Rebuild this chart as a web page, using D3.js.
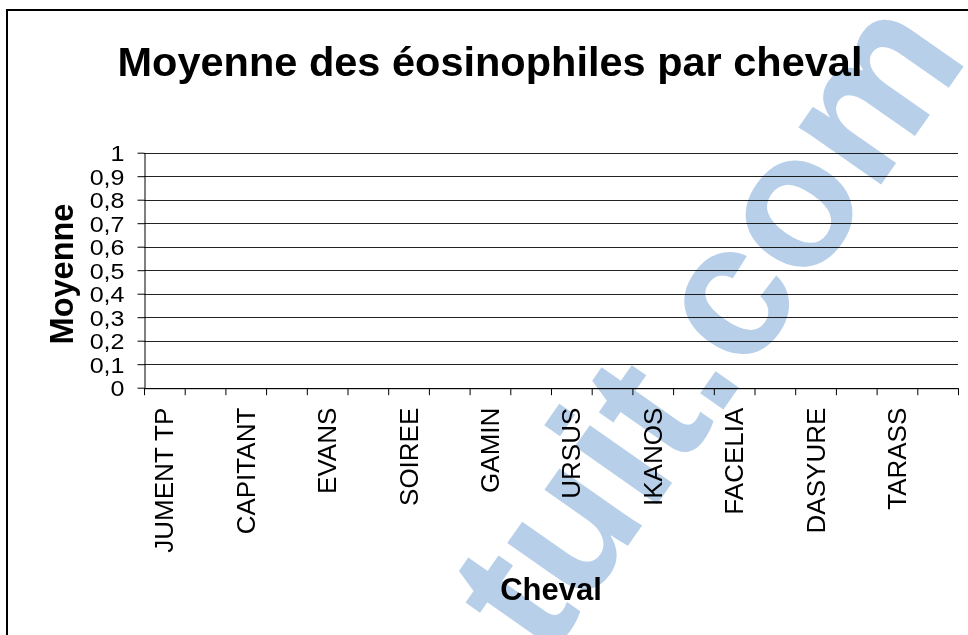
<!DOCTYPE html>
<html>
<head>
<meta charset="utf-8">
<script src="https://cdn.jsdelivr.net/npm/d3@7"></script>
<style>
  html, body { margin: 0; padding: 0; background: #fff; }
  svg { display: block; }
</style>
</head>
<body>
<svg id="chart" width="968" height="635"></svg>
<script>
// ---- data ----
const title = "Moyenne des éosinophiles par cheval";
const xTitle = "Cheval";
const yTitle = "Moyenne";
// 20 categories; only every other label is shown on the axis (others unreadable)
const categories = ["JUMENT TP", "", "CAPITANT", "", "EVANS", "", "SOIREE", "", "GAMIN", "",
                    "URSUS", "", "IKANOS", "", "FACELIA", "", "DASYURE", "", "TARASS", ""];
const values = [0, 0, 0, 0, 0, 0, 0, 0, 0, 0, 0, 0, 0, 0, 0, 0, 0, 0, 0, 0];
const yTicks = [0, 0.1, 0.2, 0.3, 0.4, 0.5, 0.6, 0.7, 0.8, 0.9, 1];
const watermarkLeft = "tuit";
const watermarkRight = ".com";

// ---- layout ----
const svg = d3.select("#chart");
const W = 968, H = 635;
const plot = { left: 144, right: 958, top: 152.7, bottom: 387.7 };
const font = "Arial, 'Liberation Sans', Helvetica, sans-serif";

svg.append("rect").attr("width", W).attr("height", H).attr("fill", "#fff");
// outer chart border (extends past right/bottom edge)
svg.append("rect").attr("x", 7).attr("y", 10).attr("width", 1100).attr("height", 1000)
  .attr("fill", "none").attr("stroke", "#000").attr("stroke-width", 2);

const idx = d3.range(categories.length);
const x = d3.scaleBand().domain(idx).range([plot.left, plot.right]);
const xEdge = d3.scaleLinear().domain([0, categories.length]).range([plot.left, plot.right]);
const y = d3.scaleLinear().domain([0, 1]).range([plot.bottom, plot.top]);

const loc = d3.formatLocale({ decimal: ",", thousands: " ", grouping: [3], currency: ["", "€"] });
const fmt = loc.format("~g");

// gridlines
svg.append("g").selectAll("line").data(yTicks).join("line")
  .attr("x1", plot.left).attr("x2", plot.right)
  .attr("y1", d => Math.round(y(d)) + 0.5).attr("y2", d => Math.round(y(d)) + 0.5)
  .attr("stroke", "#222").attr("stroke-width", 1);

// bars (all zero)
svg.append("g").selectAll("rect").data(values).join("rect")
  .attr("x", (d, i) => x(i) + x.bandwidth() * 0.2)
  .attr("width", x.bandwidth() * 0.6)
  .attr("y", d => y(d)).attr("height", d => y(0) - y(d))
  .attr("fill", "#4f81bd");

// y axis
const yStretch = 1.14;
const yA = svg.append("g").attr("transform", `translate(${plot.left + 0.5},0)`)
  .call(d3.axisLeft(y).tickValues(yTicks).tickFormat(fmt).tickSize(7).tickSizeOuter(0));
yA.select(".domain").attr("stroke", "#000");
yA.selectAll(".tick line").attr("stroke", "#000");
yA.selectAll(".tick text")
  .attr("font-family", font).attr("font-size", 22).attr("fill", "#000")
  .attr("x", -20 / yStretch).attr("dy", "0.36em")
  .attr("transform", `scale(${yStretch},1)`);

// x axis
const xA = svg.append("g").attr("transform", `translate(0,${plot.bottom + 0.5})`)
  .call(d3.axisBottom(xEdge).tickValues(d3.range(categories.length + 1)).tickFormat("").tickSize(7).tickSizeOuter(0));
xA.select(".domain").attr("stroke", "#000");
xA.selectAll(".tick line").attr("stroke", "#000");

// category labels (rotated)
svg.append("g").selectAll("text").data(categories).join("text")
  .attr("transform", (d, i) => `translate(${x(i) + x.bandwidth() / 2},${plot.bottom + 20}) rotate(-90)`)
  .attr("text-anchor", "end").attr("dy", "0.35em")
  .attr("font-family", font).attr("font-size", 26).attr("fill", "#000")
  .text(d => d);

// titles
svg.append("text").attr("x", 490).attr("y", 76).attr("text-anchor", "middle")
  .attr("font-family", font).attr("font-size", 41.5).attr("font-weight", "bold").text(title);
svg.append("text").attr("x", 551).attr("y", 600).attr("text-anchor", "middle")
  .attr("font-family", font).attr("font-size", 31).attr("font-weight", "bold").text(xTitle);
svg.append("text").attr("transform", `translate(73,274) rotate(-90)`)
  .attr("text-anchor", "middle")
  .attr("font-family", font).attr("font-size", 32.5).attr("font-weight", "bold").text(yTitle);

// watermark
const wm = svg.append("g")
  .attr("transform", "translate(716,420) rotate(-55)")
  .style("mix-blend-mode", "multiply");
wm.append("text").attr("text-anchor", "end")
  .attr("font-family", font).attr("font-size", 190).attr("font-weight", "bold")
  .attr("fill", "#b7cfe9").text(watermarkLeft);
wm.append("text").attr("text-anchor", "start")
  .attr("font-family", font).attr("font-size", 190).attr("font-weight", "bold")
  .attr("fill", "#b7cfe9").text(watermarkRight);
</script>
</body>
</html>
